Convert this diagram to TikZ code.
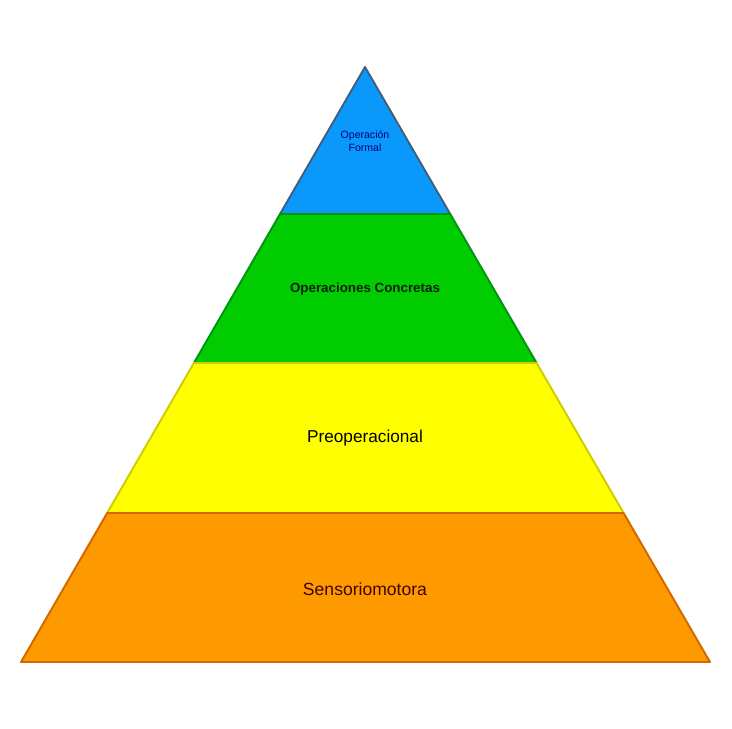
\documentclass[tikz,border=0pt]{standalone}
\usepackage{fontspec}
\setmainfont{Liberation Sans}
\usetikzlibrary{calc}
\definecolor{formalfill}{RGB}{10,153,250}
\definecolor{formaldraw}{RGB}{65,95,125}
\definecolor{concretafill}{RGB}{0,204,0}
\definecolor{concretadraw}{RGB}{0,150,20}
\definecolor{preopfill}{RGB}{255,255,0}
\definecolor{preopdraw}{RGB}{205,205,0}
\definecolor{sensofill}{RGB}{255,153,0}
\definecolor{sensodraw}{RGB}{210,105,0}
\definecolor{formaltext}{RGB}{0,0,120}
\definecolor{concretatext}{RGB}{10,30,10}
\definecolor{sensotext}{RGB}{60,5,0}

\begin{document}
\begin{tikzpicture}[x=0.02cm, y=-0.02cm,
    layer/.style={line width=1.1pt, line join=round},
    tag/.style={align=center, inner sep=0pt}
  ]
    \useasboundingbox (0,0) rectangle (732,728);
    % pyramid corners
    \coordinate (apex) at (365,67);
    \coordinate (bl) at (21,662);
    \coordinate (br) at (710,662);
    \coordinate (l1) at ($(apex)!0.247!(bl)$);
    \coordinate (r1) at ($(apex)!0.247!(br)$);
    \coordinate (l2) at ($(apex)!0.4975!(bl)$);
    \coordinate (r2) at ($(apex)!0.4975!(br)$);
    \coordinate (l3) at ($(apex)!0.7496!(bl)$);
    \coordinate (r3) at ($(apex)!0.7496!(br)$);
    % layers, top first
    \draw[layer, fill=formalfill, draw=formaldraw] (apex) -- (r1) -- (l1) -- cycle;
    \draw[layer, fill=concretafill, draw=concretadraw] (l1) -- (r1) -- (r2) -- (l2) -- cycle;
    \draw[layer, fill=preopfill, draw=preopdraw] (l2) -- (r2) -- (r3) -- (l3) -- cycle;
    \draw[layer, fill=sensofill, draw=sensodraw] (l3) -- (r3) -- (br) -- (bl) -- cycle;
    % labels
    \node[tag, font=\fontsize{6}{7.4}\selectfont, text=formaltext] (formal) at (365,141) {Operación\\Formal};
    \node[tag, font=\fontsize{7.6}{9}\selectfont\bfseries, text=concretatext] (concretas) at (365,289) {Operaciones Concretas};
    \node[tag, font=\fontsize{9.8}{11}\selectfont, text=black] (preop) at (365,438) {Preoperacional};
    \node[tag, font=\fontsize{10}{11}\selectfont, text=sensotext] (senso) at (365,589) {Sensoriomotora};
\end{tikzpicture}
\end{document}
